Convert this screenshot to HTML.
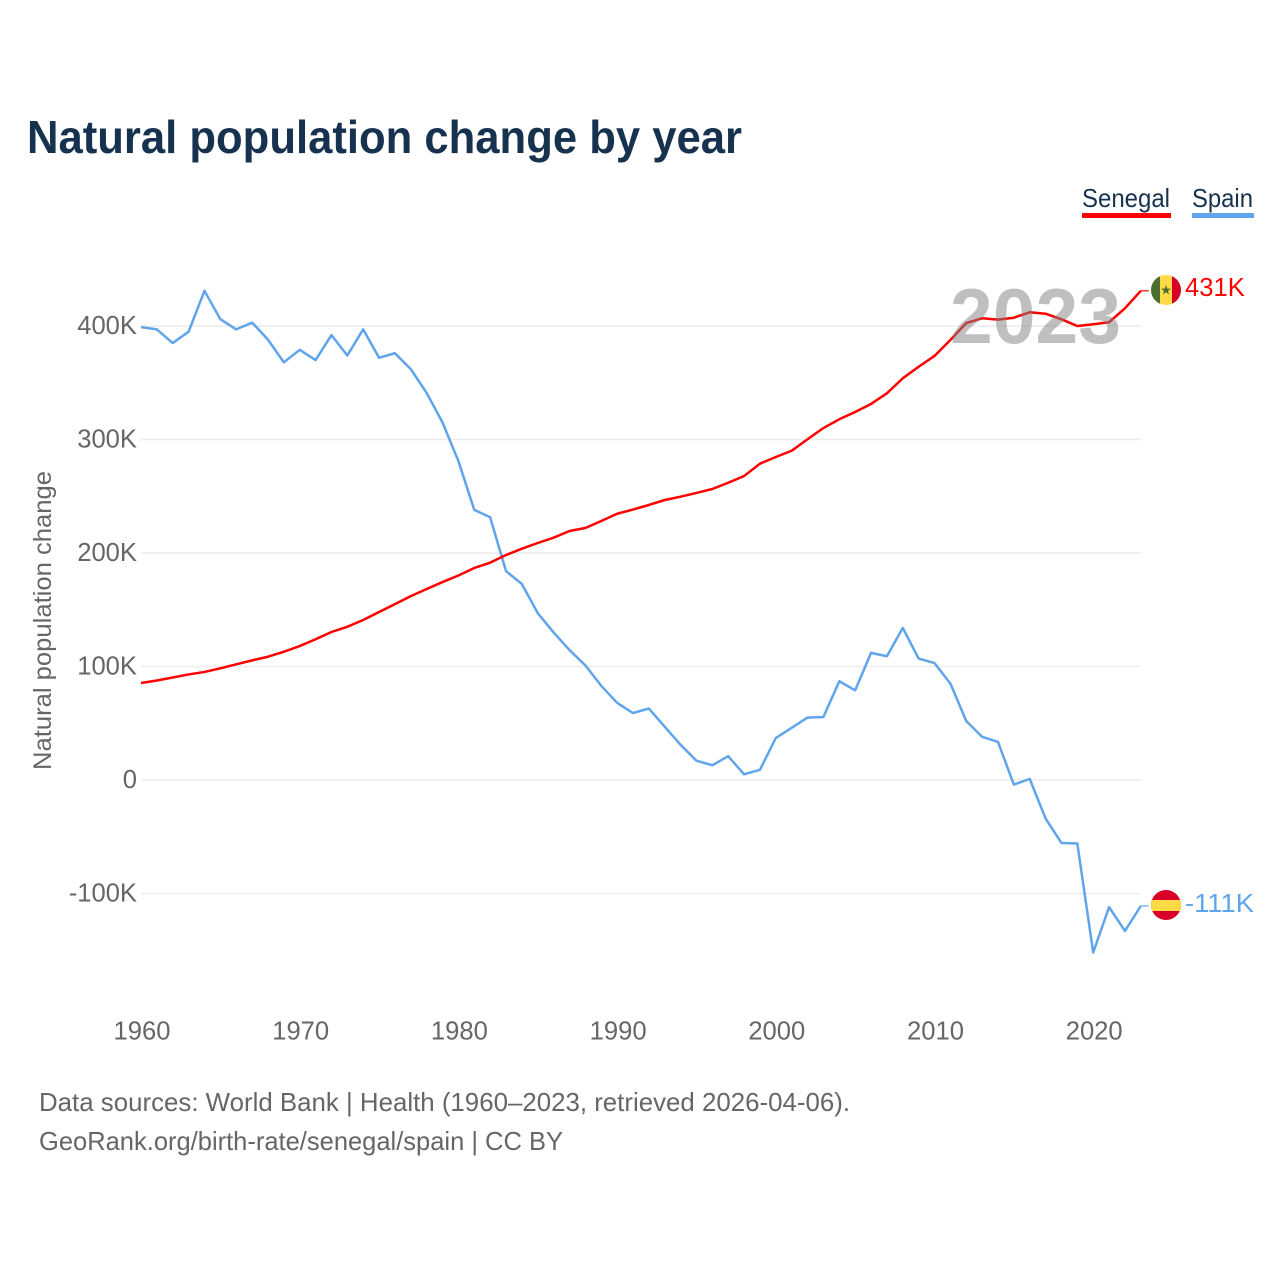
<!DOCTYPE html>
<html lang="en">
<head>
<meta charset="utf-8">
<title>Natural population change by year</title>
<style>
  html, body { margin: 0; padding: 0; background: #fff; }
  svg { display: block; font-family: "Liberation Sans", sans-serif; }
</style>
</head>
<body>
<svg id="chart" width="1280" height="1280" viewBox="0 0 1280 1280" xmlns="http://www.w3.org/2000/svg">
  <rect width="1280" height="1280" fill="#ffffff"/>
  <text x="27" y="153" font-size="46" font-weight="700" fill="#17324f" textLength="715" lengthAdjust="spacingAndGlyphs">Natural population change by year</text>

  <g>
    <g>
      <text x="1082" y="207" font-size="26" fill="#17324f" textLength="88" lengthAdjust="spacingAndGlyphs">Senegal</text>
      <rect x="1082" y="213" width="89" height="5" fill="#ff0000"/>
    </g>
    <g>
      <text x="1192" y="207" font-size="26" fill="#17324f" textLength="61" lengthAdjust="spacingAndGlyphs">Spain</text>
      <rect x="1192" y="213" width="62" height="5" fill="#60a5ec"/>
    </g>
  </g>

  <text transform="translate(51 770) rotate(-90)" font-size="25" fill="#666666" textLength="299" lengthAdjust="spacingAndGlyphs">Natural population change</text>

  <g id="grid"></g>
  <g id="yticks"></g>
  <g id="xticks"></g>
  <g id="series"></g>

  <text x="950" y="343" font-size="78" font-weight="700" fill="#808080" fill-opacity="0.5" textLength="171" lengthAdjust="spacingAndGlyphs">2023</text>

  <g id="flag-senegal">
    <clipPath id="clip-sn"><circle cx="1166" cy="290" r="15"/></clipPath>
    <g clip-path="url(#clip-sn)">
      <rect x="1151" y="275" width="30" height="30" fill="#ffda44"/>
      <rect x="1151" y="275" width="9" height="30" fill="#496e2d"/>
      <rect x="1172" y="275" width="9" height="30" fill="#d80027"/>
      <polygon points="1166,285 1167.3,288.6 1171,288.6 1168,290.9 1169.1,294.5 1166,292.3 1162.9,294.5 1164,290.9 1161,288.6 1164.7,288.6" fill="#496e2d"/>
    </g>
  </g>
  <g id="flag-spain">
    <clipPath id="clip-es"><circle cx="1166" cy="905" r="15"/></clipPath>
    <g clip-path="url(#clip-es)">
      <rect x="1151" y="890" width="30" height="30" fill="#d80027"/>
      <rect x="1151" y="900" width="30" height="11" fill="#ffda44"/>
    </g>
  </g>

  <g>
    <text x="39" y="1111" font-size="26" fill="#666666" textLength="811" lengthAdjust="spacingAndGlyphs">Data sources: World Bank | Health (1960–2023, retrieved 2026-04-06).</text>
    <text x="39" y="1150" font-size="26" fill="#666666" textLength="524" lengthAdjust="spacingAndGlyphs">GeoRank.org/birth-rate/senegal/spain | CC BY</text>
  </g>
</svg>

<script>
const years = [1960,1961,1962,1963,1964,1965,1966,1967,1968,1969,1970,1971,1972,1973,1974,1975,1976,1977,1978,1979,1980,1981,1982,1983,1984,1985,1986,1987,1988,1989,1990,1991,1992,1993,1994,1995,1996,1997,1998,1999,2000,2001,2002,2003,2004,2005,2006,2007,2008,2009,2010,2011,2012,2013,2014,2015,2016,2017,2018,2019,2020,2021,2022,2023];
const senegalValues = [85.5,87.7,90.3,93,95.2,98.4,101.9,105.4,108.6,113,118,124,130.4,135,141,148,155,162,168.3,174.4,180.2,186.8,191.5,198.2,203.8,208.8,213.5,219.4,222,228.2,234.6,238.3,242.3,246.7,249.6,252.9,256.4,261.9,267.8,278.7,284.6,290.1,300.2,310.1,317.8,324.2,331.3,340.7,353.9,364.1,373.6,387.7,402.6,406.8,405.6,407.3,412.1,410.8,405.9,400,401.5,403.3,415.6,431];
const spainValues = [399,397,385,395,431,406,397,403,388,368,379,370,392,374,397,372,376,362,341,315,281,238,231.5,184,172.7,147,130,114.5,101,83,68,59,63,47,31,17,13,21,5,9,37,46,55,55.5,87,79,112,109,134,107,103,85,52,38,33.5,-4,1,-34,-55.5,-56,-152,-112,-133,-111];
const yTickValues = [400,300,200,100,0,-100];
const yTickLabels = ["400K","300K","200K","100K","0","-100K"];
const xTickValues = [1960,1970,1980,1990,2000,2010,2020];
const senegalLabel = "431K";
const spainLabel = "-111K";

const NS = "http://www.w3.org/2000/svg";
const xScale = function (year) { return 141 + (year - 1960) * 15.87; };
const yScale = function (value) { return 780 - value * 1.135; };

function make(tag, parent) {
  const el = document.createElementNS(NS, tag);
  parent.appendChild(el);
  return el;
}

const grid = document.getElementById("grid");
const yticks = document.getElementById("yticks");
const xticks = document.getElementById("xticks");
const series = document.getElementById("series");

yTickValues.forEach(function (value, i) {
  const line = make("line", grid);
  
  
  line.setAttribute("x1", xScale(1960));
  line.setAttribute("x2", xScale(2023));
  line.setAttribute("y1", yScale(value));
  line.setAttribute("y2", yScale(value));
  line.setAttribute("stroke", "#ececec");
  line.setAttribute("stroke-width", "1.5");

  const label = make("text", yticks);
  
  
  label.setAttribute("x", 137);
  label.setAttribute("y", yScale(value) + 8);
  label.setAttribute("text-anchor", "end");
  label.setAttribute("font-size", "25.6");
  label.setAttribute("fill", "#666666");
  label.textContent = yTickLabels[i];
});

xTickValues.forEach(function (year) {
  const label = make("text", xticks);
  
  
  label.setAttribute("x", xScale(year) + 1);
  label.setAttribute("y", 1039.5);
  label.setAttribute("text-anchor", "middle");
  label.setAttribute("font-size", "25.6");
  label.setAttribute("fill", "#666666");
  label.textContent = year;
});

function linePath(values) {
  return values.map(function (value, i) {
    return (i ? "L" : "M") + xScale(years[i]).toFixed(2) + " " + yScale(value).toFixed(2);
  }).join(" ");
}

const spainLine = make("path", series);


spainLine.setAttribute("d", linePath(spainValues));
spainLine.setAttribute("fill", "none");
spainLine.setAttribute("stroke", "#60a5ec");
spainLine.setAttribute("stroke-width", "2.5");
spainLine.setAttribute("stroke-linejoin", "round");

const senegalLine = make("path", series);


senegalLine.setAttribute("d", linePath(senegalValues));
senegalLine.setAttribute("fill", "none");
senegalLine.setAttribute("stroke", "#ff0000");
senegalLine.setAttribute("stroke-width", "2.5");
senegalLine.setAttribute("stroke-linejoin", "round");

const lastIndex = years.length - 1;

const senegalConnector = make("line", series);


senegalConnector.setAttribute("x1", xScale(years[lastIndex]));
senegalConnector.setAttribute("x2", xScale(years[lastIndex]) + 8);
senegalConnector.setAttribute("y1", yScale(senegalValues[lastIndex]));
senegalConnector.setAttribute("y2", yScale(senegalValues[lastIndex]));
senegalConnector.setAttribute("stroke", "#ff0000");
senegalConnector.setAttribute("stroke-width", "1.2");

const spainConnector = make("line", series);


spainConnector.setAttribute("x1", xScale(years[lastIndex]));
spainConnector.setAttribute("x2", xScale(years[lastIndex]) + 8);
spainConnector.setAttribute("y1", yScale(spainValues[lastIndex]));
spainConnector.setAttribute("y2", yScale(spainValues[lastIndex]));
spainConnector.setAttribute("stroke", "#60a5ec");
spainConnector.setAttribute("stroke-width", "1.2");

const senegalValueLabel = make("text", series);


senegalValueLabel.setAttribute("x", 1185);
senegalValueLabel.setAttribute("y", yScale(senegalValues[lastIndex]) + 5);
senegalValueLabel.setAttribute("font-size", "25.6");
senegalValueLabel.setAttribute("fill", "#ff0000");
senegalValueLabel.textContent = senegalLabel;

const spainValueLabel = make("text", series);


spainValueLabel.setAttribute("x", 1185);
spainValueLabel.setAttribute("y", yScale(spainValues[lastIndex]) + 6);
spainValueLabel.setAttribute("font-size", "25.6");
spainValueLabel.setAttribute("fill", "#60a5ec");
spainValueLabel.setAttribute("textLength", "69");
spainValueLabel.setAttribute("lengthAdjust", "spacingAndGlyphs");
spainValueLabel.textContent = spainLabel;
</script>
</body>
</html>
